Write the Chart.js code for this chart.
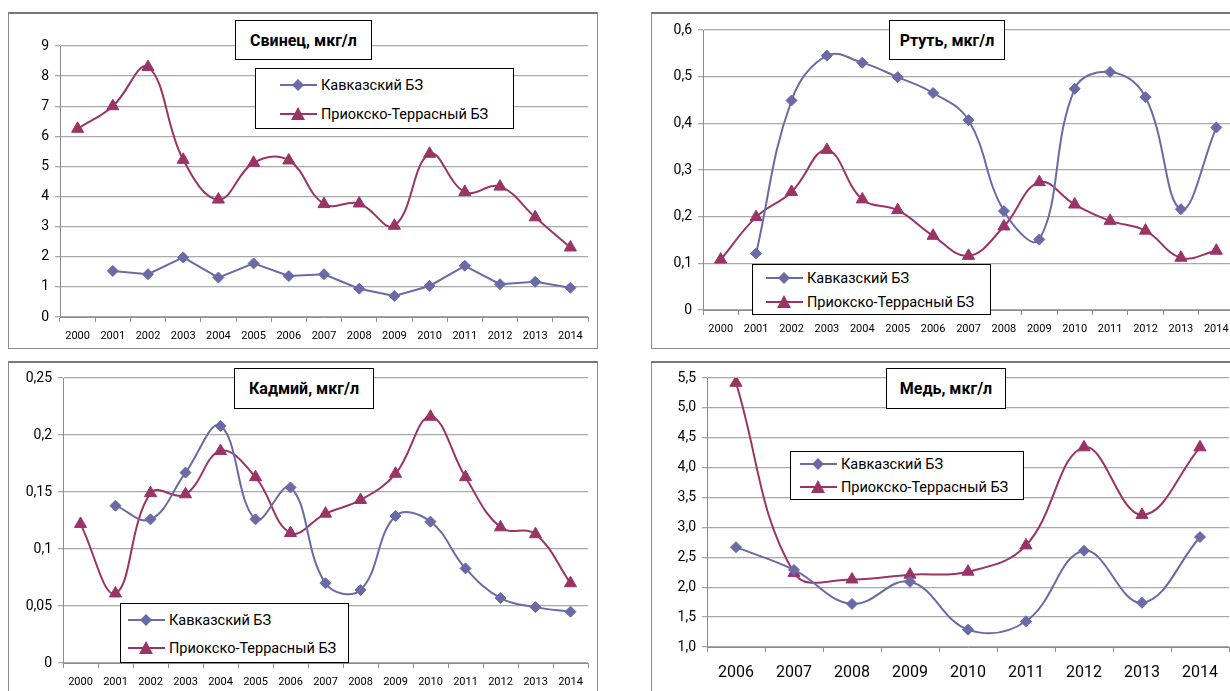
<!DOCTYPE html>
<html>
<head>
<meta charset="utf-8">
<script src="https://cdn.jsdelivr.net/npm/chart.js@4.4.0/dist/chart.umd.min.js"></script>
<style>
body { margin: 0; width: 1230px; height: 691px; overflow: hidden; background: #fff; position: relative; font-family: Roboto, "Open Sans", sans-serif; }
.panel { position: absolute; border: 1px solid #8c8c8c; border-top: 2px solid #777; background: #fff; }
canvas { position: absolute; }
.ttl { position: absolute; border: 1px solid #000; background: #fff; font-weight: bold; font-size: 16px; display: flex; align-items: center; justify-content: center; color: #000; }
.lg { position: absolute; border: 1px solid #000; background: #fff; font-size: 14.5px; color: #000; }
.lg .row { position: absolute; display: flex; align-items: center; height: 20px; white-space: nowrap; }
.lg svg { margin-right: 4px; }
</style>
</head>
<body>
<div class="panel" style="left:8px;top:12px;width:588px;height:334px"></div>
<div class="panel" style="left:651px;top:12px;width:600px;height:334px"></div>
<div class="panel" style="left:8px;top:361px;width:588px;height:340px"></div>
<div class="panel" style="left:651px;top:361px;width:600px;height:340px"></div>

<canvas id="c1" width="587" height="332" style="left:9px;top:14px"></canvas>
<canvas id="c2" width="590" height="332" style="left:652px;top:14px"></canvas>
<canvas id="c3" width="587" height="328" style="left:9px;top:363px"></canvas>
<canvas id="c4" width="590" height="328" style="left:652px;top:363px"></canvas>

<script>
// названия рядов
const seriesNames = ['Кавказский БЗ', 'Приокско-Террасный БЗ'];

const years = ['2000', '2001', '2002', '2003', '2004', '2005', '2006', '2007', '2008', '2009', '2010', '2011', '2012', '2013', '2014'];
const yearsCu = ['2006', '2007', '2008', '2009', '2010', '2011', '2012', '2013', '2014'];

// Свинец, мкг/л
const leadKavk = [null, 1.53, 1.42, 1.98, 1.31, 1.78, 1.36, 1.42, 0.94, 0.70, 1.03, 1.70, 1.09, 1.17, 0.97];
const leadPrio = [6.25, 7.0, 8.3, 5.22, 3.9, 5.12, 5.2, 3.75, 3.77, 3.03, 5.42, 4.15, 4.33, 3.31, 2.31];

// Ртуть, мкг/л
const hgKavk = [null, 0.121, 0.449, 0.545, 0.530, 0.499, 0.465, 0.407, 0.212, 0.151, 0.474, 0.510, 0.456, 0.216, 0.391];
const hgPrio = [0.108, 0.199, 0.253, 0.343, 0.237, 0.214, 0.159, 0.116, 0.179, 0.274, 0.226, 0.191, 0.170, 0.112, 0.127];

// Кадмий, мкг/л
const cdKavk = [null, 0.138, 0.126, 0.167, 0.208, 0.126, 0.154, 0.070, 0.064, 0.129, 0.124, 0.083, 0.057, 0.049, 0.045];
const cdPrio = [0.122, 0.061, 0.149, 0.148, 0.186, 0.163, 0.114, 0.131, 0.143, 0.166, 0.216, 0.163, 0.119, 0.113, 0.070];

// Медь, мкг/л
const cuKavk = [2.67, 2.29, 1.72, 2.09, 1.29, 1.43, 2.61, 1.74, 2.84];
const cuPrio = [5.42, 2.24, 2.13, 2.21, 2.26, 2.70, 4.34, 3.21, 4.34];

const colKavk = '#6a6aa6';
const colPrio = '#9a3465';

function makeSets(kavk, prio, tensionKavk) {
    return [{
        label: seriesNames[0],
        data: kavk,
        borderColor: colKavk,
        backgroundColor: colKavk,
        borderWidth: 2,
        pointStyle: 'rectRot',
        pointRadius: 5.5,
        pointBorderWidth: 1,
        tension: tensionKavk
    }, {
        label: seriesNames[1],
        data: prio,
        borderColor: colPrio,
        backgroundColor: colPrio,
        borderWidth: 2,
        pointStyle: 'triangle',
        pointRadius: 7,
        pointBorderWidth: 1,
        tension: 0.4
    }];
}

function fmtGeneral(v) { return String(Number(v.toFixed(4))).replace('.', ','); }
function fmtOne(v) { return v.toFixed(1).replace('.', ','); }

function initChart(id, labels, sets, y, box) {
    const ctx = document.getElementById(id).getContext('2d');
    return new Chart(ctx, {
        type: 'line',
        data: { labels: labels, datasets: sets },
        options: {
            responsive: false,
            animation: false,
            layout: { padding: { top: box.top, right: box.right, left: 0, bottom: 0 } },
            plugins: { legend: { display: false }, tooltip: { enabled: false }, title: { display: false } },
            scales: {
                x: {
                    type: 'category',
                    offset: true,
                    grid: { offset: true, drawOnChartArea: false, color: '#8c8c8c', tickLength: 5 },
                    border: { color: '#8c8c8c' },
                    ticks: { color: '#000', font: { family: 'Roboto', size: box.xFont }, padding: box.xPad, maxRotation: 0, autoSkip: false },
                    afterFit: (s) => { s.height = box.xh; }
                },
                y: {
                    min: y.min,
                    max: y.max,
                    ticks: { stepSize: y.step, color: '#000', font: { family: 'Roboto', size: 14 }, padding: 6, callback: y.fmt },
                    grid: { color: '#a9a9a9', lineWidth: 1.3, tickLength: 5 },
                    border: { color: '#8c8c8c' },
                    afterFit: (s) => { s.width = box.yw; }
                }
            }
        }
    });
}

function marker(style, color) {
    if (style === 'rectRot') {
        return '<polygon points="18,2 24,8 18,14 12,8" fill="' + color + '"/>';
    }
    return '<polygon points="18,1 25,14 11,14" fill="' + color + '"/>';
}

function addTitle(text, l, t, w, h) {
    const d = document.createElement('div');
    d.className = 'ttl';
    d.style.cssText = 'left:' + l + 'px;top:' + t + 'px;width:' + w + 'px;height:' + h + 'px';
    d.textContent = text;
    document.body.appendChild(d);
}

function addLegend(chart, l, t, w, h, rowY, padL) {
    const d = document.createElement('div');
    d.className = 'lg';
    d.style.cssText = 'left:' + l + 'px;top:' + t + 'px;width:' + w + 'px;height:' + h + 'px';
    chart.data.datasets.forEach((ds, i) => {
        const r = document.createElement('div');
        r.className = 'row';
        r.style.left = padL + 'px';
        r.style.top = (rowY[i] - 10) + 'px';
        r.innerHTML = '<svg width="37" height="16"><line x1="0" y1="8" x2="37" y2="8" stroke="' + ds.borderColor + '" stroke-width="2"/>' +
            marker(ds.pointStyle, ds.backgroundColor) + '</svg><span>' + ds.label + '</span>';
        d.appendChild(r);
    });
    document.body.appendChild(d);
}

const ch1 = initChart('c1', years, makeSets(leadKavk, leadPrio, 0),
    { min: 0, max: 9, step: 1, fmt: fmtGeneral },
    { top: 32, right: 0, yw: 51, xh: 29, xFont: 11, xPad: 8 });
const ch2 = initChart('c2', years, makeSets(hgKavk, hgPrio, 0.4),
    { min: 0, max: 0.6, step: 0.1, fmt: fmtGeneral },
    { top: 16, right: 7, yw: 51, xh: 36, xFont: 11, xPad: 8 });
const ch3 = initChart('c3', years, makeSets(cdKavk, cdPrio, 0.4),
    { min: 0, max: 0.25, step: 0.05, fmt: fmtGeneral },
    { top: 15, right: 7, yw: 54, xh: 28, xFont: 11, xPad: 8 });
const ch4 = initChart('c4', yearsCu, makeSets(cuKavk, cuPrio, 0.4),
    { min: 1, max: 5.5, step: 0.5, fmt: fmtOne },
    { top: 15, right: 13, yw: 55, xh: 44, xFont: 16, xPad: 11 });

addTitle('Свинец, мкг/л', 235, 20, 135, 38);
addTitle('Ртуть, мкг/л', 889, 20, 114, 38);
addTitle('Кадмий, мкг/л', 234, 368, 138, 39);
addTitle('Медь, мкг/л', 886, 368, 118, 39);

addLegend(ch1, 255, 68, 257, 59, [16, 45], 24);
addLegend(ch2, 752, 264, 237, 49, [13, 37], 13);
addLegend(ch3, 120, 603, 227, 58, [16, 44], 7);
addLegend(ch4, 790, 451, 232, 47, [12, 35], 9);
</script>
</body>
</html>
